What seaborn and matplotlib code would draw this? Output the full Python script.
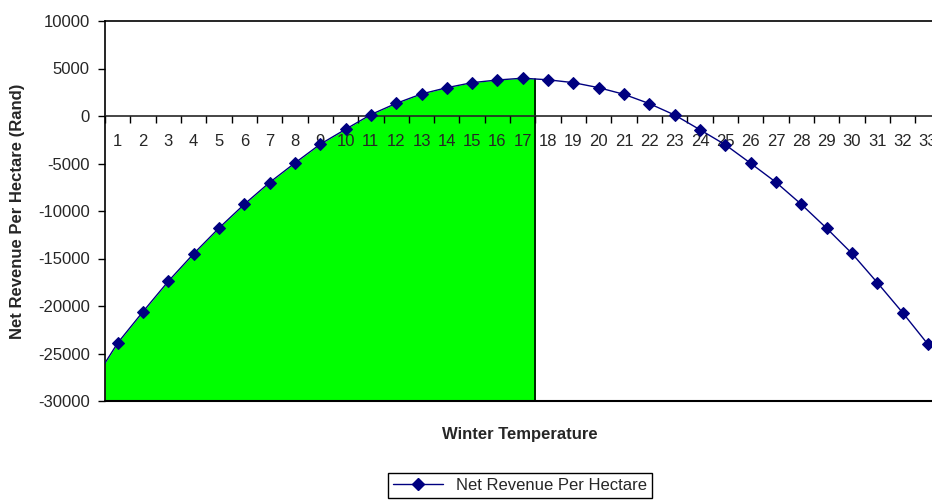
import numpy as np
import pandas as pd
import seaborn as sns
import matplotlib.pyplot as plt
from matplotlib.lines import Line2D

# data
temperature = list(range(1, 34))
net_revenue = [
    -23900, -20600, -17400, -14500, -11800, -9300, -7000, -4950, -2970, -1400,
    150, 1330, 2320, 2980, 3510, 3790, 3980, 3810, 3510, 2980, 2280, 1300,
    100, -1450, -3030, -4980, -6980, -9300, -11820, -14470, -17540, -20700, -24030,
]
# curve start at the left edge of the plot area and value at the end of the shaded band
edge_start = (0.5, -26000)
shade_end = (17.5, 3900)

df = pd.DataFrame({"Winter Temperature": temperature, "Net Revenue": net_revenue})

sns.set_style("white")
plt.rcParams["font.family"] = ["Liberation Sans", "DejaVu Sans"]
plt.rcParams["axes.unicode_minus"] = False

fig = plt.figure(figsize=(9.32, 5.0), dpi=100)
ax = fig.add_axes([105 / 932, 1 - 401 / 500, (940.6 - 105) / 932, 380 / 500])
ax.set_axisbelow(False)

navy = "#000080"

# shaded band under the curve
shade_x = [edge_start[0]] + temperature[:17] + [shade_end[0]]
shade_y = [edge_start[1]] + net_revenue[:17] + [shade_end[1]]
ax.fill_between(shade_x, shade_y, -30000, color="#00FF00", lw=0, zorder=1)
ax.plot([shade_end[0], shade_end[0]], [-30000, shade_end[1]], color="black", lw=1.2, zorder=2)

# lead-in of the curve from the left edge
ax.plot([edge_start[0], temperature[0]], [edge_start[1], net_revenue[0]], color=navy, lw=1, zorder=3)

sns.lineplot(
    data=df,
    x="Winter Temperature",
    y="Net Revenue",
    ax=ax,
    color=navy,
    lw=1,
    marker="D",
    markersize=6.5,
    markeredgecolor=navy,
    markerfacecolor=navy,
    zorder=4,
)

ax.set_xlim(0.5, 33.5)
ax.set_ylim(-30000, 10000)
ax.set_yticks(np.arange(-30000, 10001, 5000))

# category axis drawn through zero
ax.spines["bottom"].set_position(("data", 0))
ax.spines["bottom"].set_linewidth(1.2)
ax.axhline(-30000, color="black", lw=1.5, clip_on=False, zorder=5)
for side in ["left", "top", "right"]:
    ax.spines[side].set_color("black")
    ax.spines[side].set_linewidth(1.2)

ax.set_xticks(np.arange(0.5, 34, 1))
ax.set_xticklabels([])
ax.set_xticks(temperature, minor=True)
ax.set_xticklabels([str(t) for t in temperature], minor=True)
ax.tick_params(axis="x", which="major", direction="out", length=5, width=1, color="black", bottom=True)
ax.tick_params(axis="x", which="minor", length=0, pad=13, labelsize=12)
ax.tick_params(axis="y", direction="out", length=5, width=1, color="black", left=True, pad=6, labelsize=12)

ax.set_xlabel("")
ax.set_ylabel("")
fig.text(18 / 932, 1 - 211 / 500, "Net Revenue Per Hectare (Rand)", rotation=90, ha="center", va="center",
         fontsize=12, fontweight="bold")
fig.text(520 / 932, 1 - 434 / 500, "Winter Temperature", ha="center", va="center",
         fontsize=12, fontweight="bold")

handle = Line2D([], [], color=navy, lw=1, marker="D", markersize=6.5)
fig.legend([handle], ["Net Revenue Per Hectare"], loc="center", bbox_to_anchor=(520 / 932, 1 - 485 / 500),
           frameon=True, fancybox=False, edgecolor="black", fontsize=12, handlelength=3,
           borderpad=0.3, framealpha=1)

fig.savefig("out.png", dpi=100)
